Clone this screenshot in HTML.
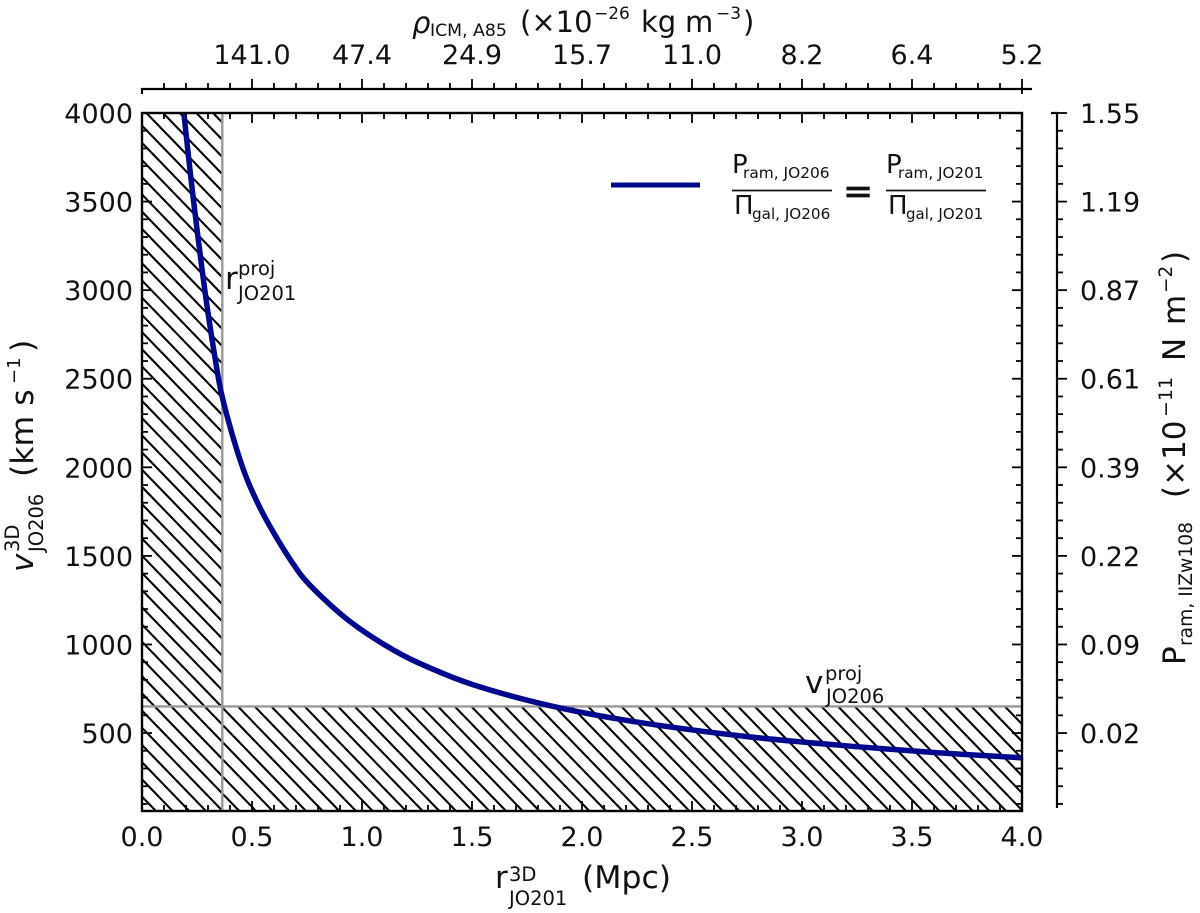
<!DOCTYPE html>
<html>
<head>
<meta charset="utf-8">
<style>
html,body{margin:0;padding:0;background:#fff;width:1200px;height:913px;overflow:hidden}
svg{display:block;font-family:"DejaVu Sans","Liberation Sans",sans-serif;fill:#111}
</style>
</head>
<body>
<svg id="chart" width="1200" height="913" viewBox="0 0 1200 913">
  <defs>
    <clipPath id="plot-clip"><rect x="142" y="113" width="880" height="698"/></clipPath>
    <clipPath id="hatch-clip"><path id="hatch-clip-path" d=""/></clipPath>
  </defs>
  <g id="hatches" clip-path="url(#hatch-clip)"></g>
  <g id="guides"></g>
  <path id="curve" fill="none" stroke="#00088c" stroke-width="5.5" clip-path="url(#plot-clip)"></path>
  <g id="axes"></g>

  <text x="225" y="289" font-size="31">r</text>
  <text x="238" y="275" font-size="19.5">proj</text>
  <text x="238" y="300" font-size="19.5">JO201</text>
  <text x="805" y="693" font-size="31">v</text>
  <text x="825" y="680" font-size="19.5">proj</text>
  <text x="826" y="703" font-size="19.5">JO206</text>

  <g>
    <line x1="611" y1="185" x2="700" y2="185" stroke="#00088c" stroke-width="5"/>
    <text x="732" y="173" font-size="26">P</text>
    <text x="743" y="178" font-size="15.4">ram, JO206</text>
    <line x1="732" y1="190.5" x2="832" y2="190.5" stroke="#111" stroke-width="1.8"/>
    <text x="734" y="214" font-size="26">Π</text>
    <text x="752" y="219" font-size="15.2">gal, JO206</text>
    <text x="843" y="203" font-size="36" stroke="#111" stroke-width="0.8">=</text>
    <text x="886" y="173" font-size="26">P</text>
    <text x="898" y="178" font-size="15.2">ram, JO201</text>
    <line x1="886" y1="190.5" x2="986" y2="190.5" stroke="#111" stroke-width="1.8"/>
    <text x="888" y="214" font-size="26">Π</text>
    <text x="906" y="219" font-size="15">gal, JO201</text>
  </g>

  <g>
    <text x="495" y="888" font-size="31">r</text>
    <text x="509" y="881" font-size="19.5">3D</text>
    <text x="509" y="905" font-size="19.5">JO201</text>
    <text x="582" y="888" font-size="31.5">(Mpc)</text>
  </g>

  <g>
    <text x="412" y="33" font-size="29" font-style="italic">ρ</text>
    <text x="430" y="36" font-size="17.3">ICM, A85</text>
    <text x="520" y="32" font-size="29">(×10</text>
    <text x="594" y="19" font-size="17">−26</text>
    <text x="641" y="32" font-size="29">kg</text>
    <text x="685" y="32" font-size="29">m</text>
    <text x="716" y="19" font-size="17">−3</text>
    <text x="743" y="32" font-size="29">)</text>
  </g>

  <g transform="translate(33,572) rotate(-90)">
    <text x="0" y="0" font-size="31" font-style="italic">v</text>
    <text x="20" y="-14" font-size="19.5">3D</text>
    <text x="20" y="10" font-size="19.5">JO206</text>
    <text x="95" y="0" font-size="31.5">(km s</text>
    <text x="188" y="-13" font-size="18">−1</text>
    <text x="220" y="0" font-size="31.5">)</text>
  </g>

  <g transform="translate(1185,665) rotate(-90)">
    <text x="0" y="0" font-size="31">P</text>
    <text x="19" y="7" font-size="18.7">ram, IIZw108</text>
    <text x="167" y="0" font-size="31">(×10</text>
    <text x="248" y="-13" font-size="19">−11</text>
    <text x="304" y="0" font-size="31">N</text>
    <text x="340" y="0" font-size="31">m</text>
    <text x="372" y="-13" font-size="18.5">−2</text>
    <text x="402" y="0" font-size="31">)</text>
  </g>
</svg>

<script>
// chart data
const radiusMpc = [0.19, 0.23, 0.29, 0.345, 0.37, 0.432, 0.49, 0.58, 0.718, 0.82, 0.945, 1.1, 1.25, 1.5, 1.87, 2.25, 2.75, 3.25, 3.6, 4.0];
const velocity = [4000, 3550, 2960, 2520, 2370, 2095, 1895, 1670, 1400, 1265, 1130, 1000, 900, 775, 650, 562, 480, 423, 390, 360];
const rProjected = 0.365;
const vProjected = 650;
const bottomTickValues = [0, 0.5, 1, 1.5, 2, 2.5, 3, 3.5, 4];
const bottomTickLabels = ["0.0", "0.5", "1.0", "1.5", "2.0", "2.5", "3.0", "3.5", "4.0"];
const topTickValues = [0.5, 1, 1.5, 2, 2.5, 3, 3.5, 4];
const topTickLabels = ["141.0", "47.4", "24.9", "15.7", "11.0", "8.2", "6.4", "5.2"];
const leftTickValues = [500, 1000, 1500, 2000, 2500, 3000, 3500, 4000];
const leftTickLabels = ["500", "1000", "1500", "2000", "2500", "3000", "3500", "4000"];
const rightTickLabels = ["0.02", "0.09", "0.22", "0.39", "0.61", "0.87", "1.19", "1.55"];

const NS = "http://www.w3.org/2000/svg";
const L = 142, R = 1022, T = 113, B = 811;
const xMin = 0, xMax = 4, yMin = 60, yMax = 4000;
function xScale(v) { return L + (v - xMin) / (xMax - xMin) * (R - L); }
function yScale(v) { return B - (v - yMin) / (yMax - yMin) * (B - T); }

function mk(parent, tag, attrs, text) {
  const el = document.createElementNS(NS, tag);
  for (const k in attrs) el.setAttribute(k, attrs[k]);
  if (text !== undefined) el.textContent = text;
  parent.appendChild(el);
  return el;
}

// hatched regions: L-shaped clip driven by the projected limits
const gx = xScale(rProjected), gy = yScale(vProjected);
document.getElementById("hatch-clip-path").setAttribute("d", `M${L} ${T}H${gx}V${gy}H${R}V${B}H${L}Z`);
const hatches = document.getElementById("hatches");
const HATCH_DX = 16.67, HATCH_SLOPE = 1.032, HATCH_X0 = 655, HATCH_Y0 = 706.7;
for (let k = -70; k < 30; k++) {
  const x0 = HATCH_X0 + k * HATCH_DX;
  const hl = mk(hatches, "line", {
    x1: x0 - 700, y1: HATCH_Y0 - 700 * HATCH_SLOPE,
    x2: x0 + 200, y2: HATCH_Y0 + 200 * HATCH_SLOPE,
    stroke: "#000", "stroke-width": 2.1
  });
  
  
}

// projected limit guides
const guides = document.getElementById("guides");
const guideV = mk(guides, "line", { x1: gx, x2: gx, y1: T, y2: B, stroke: "#999", "stroke-width": 2.4 });


const guideH = mk(guides, "line", { x1: L, x2: R, y1: gy, y2: gy, stroke: "#999", "stroke-width": 2.4 });



// curve: chord-weighted cubic spline through the read points
const pts = radiusMpc.map((r, i) => [xScale(r), yScale(velocity[i])]);
function dist(a, b) { return Math.hypot(a[0] - b[0], a[1] - b[1]) || 1; }
let d = "M" + pts[0][0].toFixed(2) + " " + pts[0][1].toFixed(2);
for (let i = 0; i < pts.length - 1; i++) {
  const p0 = pts[Math.max(0, i - 1)], p1 = pts[i], p2 = pts[i + 1], p3 = pts[Math.min(pts.length - 1, i + 2)];
  const d0 = dist(p0, p1), d1 = dist(p1, p2), d2 = dist(p2, p3);
  const a = d1 / (d0 + d1) / 3, b = d1 / (d1 + d2) / 3;
  const c1 = [p1[0] + (p2[0] - p0[0]) * a, p1[1] + (p2[1] - p0[1]) * a];
  const c2 = [p2[0] - (p3[0] - p1[0]) * b, p2[1] - (p3[1] - p1[1]) * b];
  d += "C" + c1[0].toFixed(2) + " " + c1[1].toFixed(2) + " " + c2[0].toFixed(2) + " " + c2[1].toFixed(2) + " " + p2[0].toFixed(2) + " " + p2[1].toFixed(2);
}
document.getElementById("curve").setAttribute("d", d);

// axes
const axes = document.getElementById("axes");
const frame = mk(axes, "rect", { x: L, y: T, width: R - L, height: B - T, fill: "none", stroke: "#000", "stroke-width": 2.4 });



const stroke = { stroke: "#000", "stroke-width": 1.8 };
function tick(x1, y1, x2, y2, name) {
  const t = mk(axes, "line", Object.assign({ x1, y1, x2, y2 }, stroke));
  
  
}
const TOP_Y = 89, RIGHT_X = 1057;

const topSpine = mk(axes, "path", { d: `M${L} 94V${TOP_Y}H1032`, fill: "none", stroke: "#000", "stroke-width": 2.2 });


const rightSpine = mk(axes, "path", { d: `M1051 ${T}H${RIGHT_X}V808`, fill: "none", stroke: "#000", "stroke-width": 2.2 });



// minor ticks, every 0.1 Mpc and every 100 km/s
for (let k = 1; k < 40; k++) {
  if (k % 5 === 0) continue;
  const x = xScale(k / 10);
  tick(x, B, x, B - 6, 'bottom-minor-tick');
  tick(x, T, x, T + 6, 'inner-top-minor-tick');
  tick(x, TOP_Y, x, TOP_Y - 6, 'top-minor-tick');
}
for (let k = 1; k < 40; k++) {
  if (k % 5 === 0) continue;
  const y = yScale(k * 100);
  tick(L, y, L + 6, y, 'left-minor-tick');
  tick(R, y, R - 6, y, 'inner-right-minor-tick');
  tick(RIGHT_X, y, RIGHT_X + 6, y, 'right-minor-tick');
}

// major ticks and labels
const TICK_FONT = 27;
bottomTickValues.forEach((v, i) => {
  const x = xScale(v);
  tick(x, B, x, B - 10, 'bottom-major-tick');
  const lab = mk(axes, "text", { x, y: 846, "font-size": TICK_FONT, "text-anchor": "middle" }, bottomTickLabels[i]);
  
  
});
topTickValues.forEach((v, i) => {
  const x = xScale(v);
  tick(x, T, x, T + 10, 'inner-top-major-tick');
  tick(x, TOP_Y, x, TOP_Y - 10, 'top-major-tick');
  const lab = mk(axes, "text", { x, y: 64, "font-size": TICK_FONT, "text-anchor": "middle" }, topTickLabels[i]);
  
  
});
tick(R, TOP_Y, R, TOP_Y + 5, 'top-axis-end-tick');
leftTickValues.forEach((v, i) => {
  const y = yScale(v);
  tick(L, y, L + 10, y, 'left-major-tick');
  tick(R, y, R - 10, y, 'inner-right-major-tick');
  tick(RIGHT_X, y, RIGHT_X + 10, y, 'right-major-tick');
  const lab = mk(axes, "text", { x: 133, y: y + 10, "font-size": TICK_FONT, "text-anchor": "end" }, leftTickLabels[i]);
  
  
  const labR = mk(axes, "text", { x: 1080, y: y + 10, "font-size": TICK_FONT }, rightTickLabels[i]);
  
  
});
</script>
</body>
</html>
